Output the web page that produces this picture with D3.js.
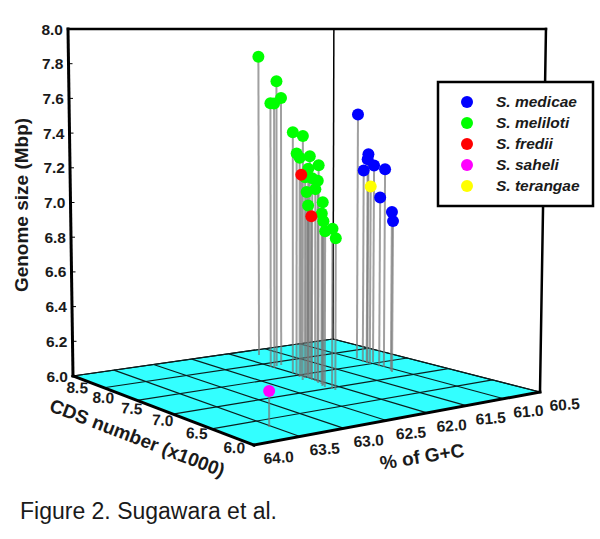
<!DOCTYPE html>
<html>
<head>
  <meta charset="utf-8">
  <title>Figure 2. Sugawara et al.</title>
  <style>
    body { margin: 0; padding: 0; background: #fff; }
    text { font-family: "Liberation Sans", Arial, sans-serif; fill: #1a1a1a; }
    .tick { font-size: 15.5px; font-weight: bold; }
    .title { font-size: 19px; font-weight: bold; }
  </style>
</head>
<body>
<div id="chart"></div>
<script src="https://d3js.org/d3.v7.min.js"></script>
<script>
// values: % G+C, CDS number (x1000), genome size (Mbp)
var melilotiGc   = [61.76, 61.94, 62.02, 62.02, 61.87, 62.00, 62.12, 62.03, 62.00, 62.06, 62.07, 62.02, 62.04, 62.04, 62.05, 62.04, 61.97, 61.93, 62.12, 62.07, 62.09, 62.13, 62.12, 62.12];
var melilotiCds  = [8.31, 7.87, 7.87, 7.82, 7.88, 7.59, 7.34, 7.51, 7.37, 7.44, 7.19, 7.37, 7.39, 7.30, 7.22, 7.26, 7.44, 7.46, 7.09, 7.15, 7.11, 7.05, 6.97, 6.93];
var melilotiSize = [7.83, 7.69, 7.56, 7.56, 7.59, 7.40, 7.39, 7.28, 7.27, 7.26, 7.23, 7.20, 7.15, 7.15, 7.14, 7.09, 7.06, 6.98, 7.03, 6.96, 6.92, 6.87, 6.89, 6.84];

var medicaeGc   = [60.96, 61.03, 61.04, 61.04, 60.95, 61.02, 61.03, 61.08, 61.11];
var medicaeCds  = [7.74, 7.54, 7.54, 7.59, 7.54, 7.34, 7.39, 7.20, 7.16];
var medicaeSize = [7.48, 7.25, 7.22, 7.15, 7.18, 7.17, 7.00, 6.93, 6.88];

var frediiGc   = [62.02, 62.02];
var frediiCds  = [7.46, 7.33];
var frediiSize = [7.16, 6.93];

var saheliGc = [63.53], saheliCds = [6.32], saheliSize = [6.18];
var terangaeGc = [61.04], terangaeCds = [7.50], terangaeSize = [7.06];

var speciesNames  = ["S. medicae", "S. meliloti", "S. fredii", "S. saheli", "S. terangae"];
var speciesColors = ["#0000ff", "#00ff00", "#ff0000", "#ff00ff", "#ffff00"];

var gcTicks   = [64.0, 63.5, 63.0, 62.5, 62.0, 61.5, 61.0, 60.5];
var cdsTicks  = [6.0, 6.5, 7.0, 7.5, 8.0, 8.5];
var sizeTicks = [6.0, 6.2, 6.4, 6.6, 6.8, 7.0, 7.2, 7.4, 7.6, 7.8, 8.0];

var width = 600, height = 539;

var svg = d3.select("#chart").append("svg")
    .attr("width", width)
    .attr("height", height);

// data -> unit square of the floor
var gcScale   = d3.scaleLinear().domain([64, 60.5]).range([0, 1]);
var cdsScale  = d3.scaleLinear().domain([6, 8.5]).range([0, 1]);
var sizeScale = d3.scaleLinear().domain([6, 8]).range([0, 1]);

// floor corners on screen: front, right, back, left
var floorCorners = [[254, 445], [540, 392], [333, 339], [73, 376]];
var topY = 29;
var homography = squareToQuad(floorCorners);

function squareToQuad(c) {
  var dx1 = c[1][0] - c[2][0], dx2 = c[3][0] - c[2][0], sx = c[0][0] - c[1][0] + c[2][0] - c[3][0];
  var dy1 = c[1][1] - c[2][1], dy2 = c[3][1] - c[2][1], sy = c[0][1] - c[1][1] + c[2][1] - c[3][1];
  var d = dx1 * dy2 - dx2 * dy1;
  var g = (sx * dy2 - dx2 * sy) / d, h = (dx1 * sy - sx * dy1) / d;
  return [c[1][0] - c[0][0] + g * c[1][0], c[3][0] - c[0][0] + h * c[3][0], c[0][0],
          c[1][1] - c[0][1] + g * c[1][1], c[3][1] - c[0][1] + h * c[3][1], c[0][1], g, h];
}

// the top plane is seen edge on, so every height 8.0 lands on topY.
// uprights lean out a little away from x = 291
function project(gc, cds, size) {
  var u = gcScale(gc), v = cdsScale(cds), m = homography;
  var w = m[6] * u + m[7] * v + 1;
  var xb = (m[0] * u + m[1] * v + m[2]) / w;
  var yb = (m[3] * u + m[4] * v + m[5]) / w;
  var t = sizeScale(size);
  var y = yb + (topY - yb) * t;
  return [xb + (xb - 291) * 6.6e-5 * (yb - y), y];
}

var lineGen = d3.line();

// floor
svg.append("path")
    .attr("d", lineGen([project(64, 6, 6), project(60.5, 6, 6), project(60.5, 8.5, 6), project(64, 8.5, 6)]) + "Z")
    .attr("fill", "#33ffff")
    .attr("stroke", "#000")
    .attr("stroke-width", 1.2);

// floor grid
gcTicks.forEach(function(t) {
  svg.append("path").attr("d", lineGen([project(t, 6, 6), project(t, 8.5, 6)]))
      .attr("stroke", "#0a2020").attr("stroke-width", 1.2).attr("fill", "none");
});
cdsTicks.forEach(function(t) {
  svg.append("path").attr("d", lineGen([project(64, t, 6), project(60.5, t, 6)]))
      .attr("stroke", "#0a2020").attr("stroke-width", 1.2).attr("fill", "none");
});

// box edges
function edge(a, b, w) {
  svg.append("path").attr("d", lineGen([a, b]))
      .attr("stroke", "#000").attr("stroke-width", w).attr("fill", "none")
      .attr("stroke-linecap", "square");
}
edge(project(60.5, 8.5, 6), project(60.5, 8.5, 8), 1.5);
edge(project(64, 8.5, 8), project(60.5, 6, 8), 2.5);
edge(project(64, 8.5, 6), project(64, 8.5, 8), 3);
edge(project(60.5, 6, 6), project(60.5, 6, 8), 2.5);
edge(project(64, 8.5, 6), project(64, 6, 6), 3);
edge(project(64, 6, 6), project(60.5, 6, 6), 3);

// size axis on the left upright
sizeTicks.forEach(function(t) {
  var p = project(64, 8.5, t);
  svg.append("path").attr("d", lineGen([p, [p[0] + 4, p[1]]]))
      .attr("stroke", "#000").attr("stroke-width", 1);
  svg.append("text").attr("class", "tick")
      .attr("x", p[0] - 5).attr("y", p[1] + 5.5)
      .attr("text-anchor", "end")
      .text(t.toFixed(1));
});

// gc labels along the front right edge
gcTicks.forEach(function(t) {
  var p = project(t, 6, 6);
  svg.append("text").attr("class", "tick")
      .attr("text-anchor", "middle")
      .attr("transform", "translate(" + (p[0] + 25) + "," + (p[1] + 18) + ") rotate(-4)")
      .text(t.toFixed(1));
});

// cds labels along the front left edge, offset shrinks toward the back
var cdsLabelDx = d3.scaleLinear().domain([6, 8.5]).range([-20, 4]);
var cdsLabelDy = d3.scaleLinear().domain([6, 8.5]).range([8, 17]);
cdsTicks.forEach(function(t) {
  var p = project(64, t, 6);
  svg.append("text").attr("class", "tick")
      .attr("text-anchor", "middle")
      .attr("transform", "translate(" + (p[0] + cdsLabelDx(t)) + "," + (p[1] + cdsLabelDy(t)) + ") rotate(3)")
      .text(t.toFixed(1));
});

// axis titles
svg.append("text").attr("class", "title")
    .attr("text-anchor", "middle")
    .attr("transform", "translate(28,205) rotate(-90)")
    .text("Genome size (Mbp)");
svg.append("text").attr("class", "title")
    .attr("text-anchor", "middle")
    .attr("transform", "translate(135,444) rotate(21)")
    .text("CDS number (x1000)");
svg.append("text").attr("class", "title")
    .attr("text-anchor", "middle")
    .attr("transform", "translate(423,463) rotate(-9)")
    .text("% of G+C");

// points
function toPoints(gc, cds, size, color) {
  return gc.map(function(d, i) {
    return { gc: d, cds: cds[i], size: size[i], color: color };
  });
}
var points = [].concat(
  toPoints(melilotiGc, melilotiCds, melilotiSize, speciesColors[1]),
  toPoints(frediiGc, frediiCds, frediiSize, speciesColors[2]),
  toPoints(medicaeGc, medicaeCds, medicaeSize, speciesColors[0]),
  toPoints(saheliGc, saheliCds, saheliSize, speciesColors[3]),
  toPoints(terangaeGc, terangaeCds, terangaeSize, speciesColors[4])
);

svg.selectAll(".stem").data(points).enter().append("path")
    .attr("class", "stem")
    .attr("d", function(d) { return lineGen([project(d.gc, d.cds, 6), project(d.gc, d.cds, d.size)]); })
    .attr("stroke", "#777")
    .attr("stroke-opacity", 0.7)
    .attr("stroke-width", 2)
    .attr("fill", "none");

svg.selectAll(".dot").data(points).enter().append("circle")
    .attr("class", "dot")
    .attr("cx", function(d) { return project(d.gc, d.cds, d.size)[0]; })
    .attr("cy", function(d) { return project(d.gc, d.cds, d.size)[1]; })
    .attr("r", 6)
    .attr("fill", function(d) { return d.color; });

// legend sits on top of the right upright
var legend = svg.append("g").attr("transform", "translate(438,82)");
legend.append("rect")
    .attr("width", 155).attr("height", 124)
    .attr("fill", "#fff").attr("stroke", "#000").attr("stroke-width", 2.5);
var legendY = d3.scalePoint().domain(speciesNames).range([20, 104]);
speciesNames.forEach(function(name, i) {
  legend.append("circle")
      .attr("cx", 29).attr("cy", legendY(name)).attr("r", 6)
      .attr("fill", speciesColors[i]);
  legend.append("text")
      .attr("x", 58).attr("y", legendY(name) + 5)
      .attr("font-size", 15.5).attr("font-weight", "bold").attr("font-style", "italic")
      .text(name);
});

// caption
svg.append("text")
    .attr("x", 20).attr("y", 519)
    .attr("font-size", 23)
    .text("Figure 2. Sugawara et al.");
</script>
</body>
</html>
